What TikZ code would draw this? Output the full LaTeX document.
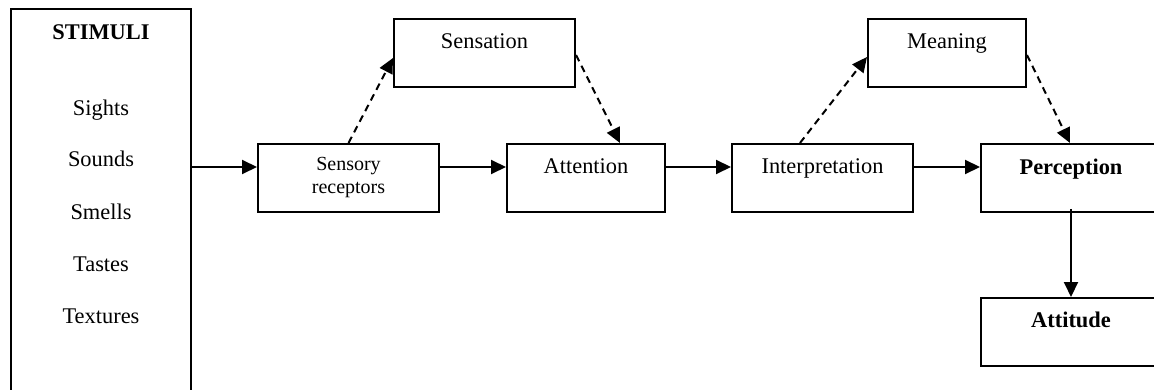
\documentclass[tikz,border=0pt]{standalone}
\usepackage{fontspec}
\setmainfont{Liberation Serif}
\usetikzlibrary{arrows.meta,calc}

\tikzset{
  box/.style={draw, line width=2pt, rectangle, inner sep=0pt, minimum height=68pt},
  lbl/.style={anchor=base, inner sep=0pt, font=\fontsize{22.4}{27}\selectfont},
  small/.style={anchor=base, inner sep=0pt, align=center, font=\fontsize{20}{23}\selectfont},
  flow/.style={line width=2pt, -{Triangle[length=15pt,width=14pt]}},
  dflow/.style={flow, dash pattern=on 7pt off 5pt}
}

\begin{document}
\begin{tikzpicture}[x=1pt, y=-1pt]
  \useasboundingbox (0,0) rectangle (1154,390);
  \clip (0,0) rectangle (1154,390);

  % boxes (centres and sizes in pt, y grows downward)
  \node[box, minimum width=180pt, minimum height=440pt] (stim) at (101,229) {};
  \node[box, minimum width=181pt] (recept) at (348.5,178) {};
  \node[box, minimum width=181pt] (sensation) at (484.5,53) {};
  \node[box, minimum width=158pt] (attention) at (586,178) {};
  \node[box, minimum width=181pt] (interp) at (822.5,178) {};
  \node[box, minimum width=158pt] (meaning) at (947,53) {};
  \node[box, minimum width=180pt] (percep) at (1071,178) {};
  \node[box, minimum width=180pt] (attitude) at (1071,332) {};

  % stimuli list
  \node[lbl, font=\fontsize{22.4}{27}\selectfont\bfseries] (tStim) at ($(stim.north)+(0,32)$) {STIMULI};
  \node[lbl] (tSights) at ($(stim.north)+(0,108)$) {Sights};
  \node[lbl] (tSounds) at ($(stim.north)+(0,159)$) {Sounds};
  \node[lbl] (tSmells) at ($(stim.north)+(0,212)$) {Smells};
  \node[lbl] (tTastes) at ($(stim.north)+(0,264)$) {Tastes};
  \node[lbl] (tTextures) at ($(stim.north)+(0,315)$) {Textures};

  % box labels (the two-line label sits on its last baseline)
  \node[small] (tRecept) at ($(recept.north)+(0,51)$) {Sensory\\receptors};
  \node[lbl] (tSensation) at ($(sensation.north)+(0,31)$) {Sensation};
  \node[lbl] (tAttention) at ($(attention.north)+(0,31)$) {Attention};
  \node[lbl] (tInterp) at ($(interp.north)+(0,31)$) {Interpretation};
  \node[lbl] (tMeaning) at ($(meaning.north)+(0,31)$) {Meaning};
  \node[lbl, font=\fontsize{22.4}{27}\selectfont\bfseries] (tPercep) at ($(percep.north)+(0,32)$) {Perception};
  \node[lbl, font=\fontsize{22.4}{27}\selectfont\bfseries] (tAttitude) at ($(attitude.north)+(0,30)$) {Attitude};

  % main flow
  \draw[flow] ($(stim.east |- recept.west)+(0,-11)$) -- ($(recept.west)+(0,-11)$);
  \draw[flow] ($(recept.east)+(0,-11)$) -- ($(attention.west)+(0,-11)$);
  \draw[flow] ($(attention.east)+(0,-11)$) -- ($(interp.west)+(0,-11)$);
  \draw[flow] ($(interp.east)+(0,-11)$) -- ($(percep.west)+(0,-11)$);
  \draw[flow] ($(percep.south)+(0,-4)$) -- (attitude.north);

  % dashed side paths
  \draw[dflow] (recept.north) -- ($(sensation.west)+(0,5)$);
  \draw[dflow] ($(sensation.east)+(0,2)$) -- ($(attention.north)+(34,0)$);
  \draw[dflow] ($(interp.north)+(-22.5,0)$) -- ($(meaning.west)+(0,4)$);
  \draw[dflow] ($(meaning.east)+(0,2)$) -- ($(percep.north)+(-1,0)$);
\end{tikzpicture}
\end{document}
